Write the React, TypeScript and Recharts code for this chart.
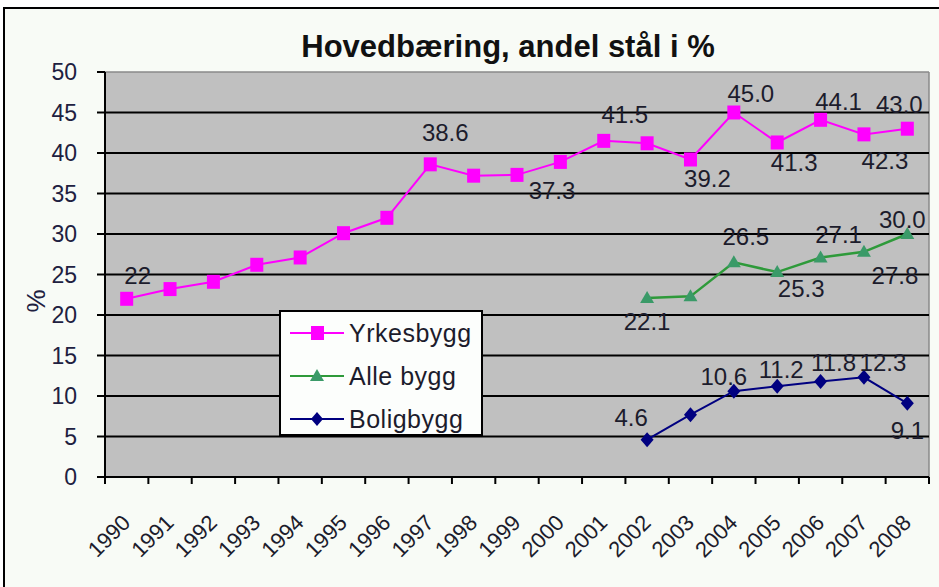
import React from 'react';
import { LineChart, Line, XAxis, YAxis, CartesianGrid, ReferenceLine, LabelList, Legend } from 'recharts';

const years = ['1990', '1991', '1992', '1993', '1994', '1995', '1996', '1997', '1998', '1999', '2000', '2001', '2002', '2003', '2004', '2005', '2006', '2007', '2008'];
const yrkesbygg = [22, 23.2, 24.1, 26.2, 27.1, 30.1, 32.0, 38.6, 37.2, 37.3, 38.9, 41.5, 41.2, 39.2, 45.0, 41.3, 44.1, 42.3, 43.0];
const alleBygg = [null, null, null, null, null, null, null, null, null, null, null, null, 22.1, 22.3, 26.5, 25.3, 27.1, 27.8, 30.0];
const boligbygg = [null, null, null, null, null, null, null, null, null, null, null, null, 4.6, 7.7, 10.6, 11.2, 11.8, 12.3, 9.1];
const yTicks = [0, 5, 10, 15, 20, 25, 30, 35, 40, 45, 50];
const gridValues = [5, 10, 15, 20, 25, 30, 35, 40, 45];

// data label texts (null = no label)
const yrkesLabels = ['22', null, null, null, null, null, null, '38.6', null, '37.3', null, '41.5', null, '39.2', '45.0', '41.3', '44.1', '42.3', '43.0'];
const alleLabels = [null, null, null, null, null, null, null, null, null, null, null, null, '22.1', null, '26.5', '25.3', '27.1', '27.8', '30.0'];
const boligLabels = [null, null, null, null, null, null, null, null, null, null, null, null, '4.6', null, '10.6', '11.2', '11.8', '12.3', '9.1'];

// label centre offsets from the point [dx, dy]
const yrkesOffsets: Record<number, [number, number]> = {
  0: [11, -23], 7: [15, -31], 9: [35, 16], 11: [21, -26], 13: [17, 20], 14: [17, -19],
  15: [17, 21], 16: [18, -18], 17: [21, 27], 18: [-8, -24],
};
const alleOffsets: Record<number, [number, number]> = {
  12: [0, 24], 14: [12, -25], 15: [24, 17], 16: [18, -22], 17: [31, 24], 18: [-5, -14],
};
const boligOffsets: Record<number, [number, number]> = {
  12: [-16, -22], 14: [-10, -14], 15: [4, -16], 16: [13, -18], 17: [19, -14], 18: [0, 28],
};

const data = years.map((year, i) => ({
  year,
  Yrkesbygg: yrkesbygg[i],
  'Alle bygg': alleBygg[i],
  Boligbygg: boligbygg[i],
}));

const FONT = '"Liberation Sans", Arial, sans-serif';
const TEXT = '#1c1c2c';
const PLOT_W = 824;
const HALF_BAND = PLOT_W / years.length / 2;

const PINK = '#FF00FF';
const GREEN_LINE = '#2E9A3A';
const GREEN_MARK = '#3A9A68';
const NAVY = '#000080';

const XTick = (props: any) => {
  const { x, y, payload } = props;
  const idx = props.index ?? payload.index;
  const ax = x + 5;
  const ay = y + 47;
  return (
    <g>
      <line x1={x - HALF_BAND} x2={x - HALF_BAND} y1={y} y2={y + 7} stroke="#000" strokeWidth={2} />
      {idx === years.length - 1 && (
        <line x1={x + HALF_BAND} x2={x + HALF_BAND} y1={y} y2={y + 7} stroke="#000" strokeWidth={2} />
      )}
      <text x={ax} y={ay} transform={`rotate(-45 ${ax} ${ay})`} textAnchor="end" fontSize={22} fontFamily={FONT} fill={TEXT}>
        {payload.value}
      </text>
    </g>
  );
};

const Square = (props: any) => {
  const { cx, cy, index } = props;
  if (cx == null || cy == null || props.value == null) return <g key={`s${index}`} />;
  return <rect key={`s${index}`} x={cx - 6.5} y={cy - 7} width={13} height={14} fill={PINK} />;
};

const Triangle = (props: any) => {
  const { cx, cy, index } = props;
  if (cx == null || cy == null || props.value == null) return <g key={`t${index}`} />;
  return <polygon key={`t${index}`} points={`${cx},${cy - 7} ${cx + 7},${cy + 5} ${cx - 7},${cy + 5}`} fill={GREEN_MARK} />;
};

const Diamond = (props: any) => {
  const { cx, cy, index } = props;
  if (cx == null || cy == null || props.value == null) return <g key={`d${index}`} />;
  return <polygon key={`d${index}`} points={`${cx},${cy - 7.5} ${cx + 6.5},${cy} ${cx},${cy + 7.5} ${cx - 6.5},${cy}`} fill={NAVY} />;
};

const makeLabel = (texts: (string | null)[], offsets: Record<number, [number, number]>) => (props: any) => {
  const { x, y, index } = props;
  const t = texts[index];
  if (!t || x == null || y == null) return null;
  const [dx, dy] = offsets[index] || [0, -20];
  return (
    <text x={x + dx} y={y + dy + 8} textAnchor="middle" fontSize={24} fontFamily={FONT} fill={TEXT}>
      {t}
    </text>
  );
};

const LegendBox = () => {
  const rows = [
    { name: 'Yrkesbygg', color: PINK, mark: 'square' },
    { name: 'Alle bygg', color: GREEN_LINE, mark: 'triangle' },
    { name: 'Boligbygg', color: NAVY, mark: 'diamond' },
  ];
  return (
    <div style={{ width: 204, height: 126, boxSizing: 'border-box', border: '2px solid #000', background: '#FCFEFC', position: 'relative' }}>
      {rows.map((r, i) => {
        const cy = 21 + i * 43;
        return (
          <div key={r.name} style={{ position: 'absolute', left: 0, top: cy - 15, height: 30, width: 200 }}>
            <svg width={60} height={30} style={{ position: 'absolute', left: 9, top: 0 }}>
              <line x1={0} x2={54} y1={15} y2={15} stroke={r.color} strokeWidth={2} />
              {r.mark === 'square' && <rect x={21} y={8} width={13} height={14} fill={PINK} />}
              {r.mark === 'triangle' && <polygon points="27,8 34,20 20,20" fill={GREEN_MARK} />}
              {r.mark === 'diamond' && <polygon points="27,8 33,15 27,22 21,15" fill={NAVY} />}
            </svg>
            <span style={{ position: 'absolute', left: 68, top: 0, lineHeight: '30px', fontSize: 25, letterSpacing: 0.5, fontFamily: FONT, color: TEXT }}>
              {r.name}
            </span>
          </div>
        );
      })}
    </div>
  );
};

export default function App() {
  return (
    <div style={{ position: 'absolute', left: 0, top: 0, width: 939, height: 587, overflow: 'hidden', background: '#fff' }}>
      <div style={{ position: 'absolute', left: 3, top: 7, width: 960, height: 620, border: '2px solid #000', background: '#F8FBF6' }} />
      <div style={{ position: 'absolute', left: 508, top: 29, transform: 'translateX(-50%)', whiteSpace: 'nowrap', fontFamily: FONT, fontWeight: 'bold', fontSize: 31, color: '#111' }}>
        Hovedbæring, andel stål i %
      </div>
      <div style={{ position: 'absolute', left: 0, top: 0 }}>
        <LineChart width={939} height={587} data={data} margin={{ top: 72, right: 10, bottom: 0, left: 0 }}>
          <CartesianGrid horizontal={false} vertical verticalPoints={[929]} stroke="#8a8a8a" strokeWidth={1.5} fill="#C0C0C0" />
          <ReferenceLine y={50} stroke="#8a8a8a" strokeWidth={1.5} />
          {gridValues.map((v) => (
            <ReferenceLine key={v} y={v} stroke="#000" strokeWidth={2} />
          ))}
          <XAxis
            dataKey="year"
            interval={0}
            height={110}
            padding={{ left: HALF_BAND, right: HALF_BAND }}
            tickLine={false}
            tickSize={0}
            tickMargin={0}
            axisLine={{ stroke: '#000', strokeWidth: 2 }}
            tick={<XTick />}
          />
          <YAxis
            domain={[0, 50]}
            ticks={yTicks}
            interval={0}
            width={105}
            tickSize={8}
            tickMargin={20}
            tickLine={{ stroke: '#000', strokeWidth: 2 }}
            axisLine={{ stroke: '#000', strokeWidth: 2 }}
            tick={{ fontSize: 23, fontFamily: FONT, fill: '#202040' }}
            label={{
              content: () => (
                <text x={45} y={301} transform="rotate(-90 45 301)" textAnchor="middle" fontSize={26} fontFamily={FONT} fill="#202040">
                  %
                </text>
              ),
            }}
          />
          <Legend
            layout="vertical"
            align="center"
            verticalAlign="middle"
            content={<LegendBox />}
            wrapperStyle={{ left: 279, top: 310, width: 204, height: 126 }}
          />
          <Line dataKey="Yrkesbygg" stroke={PINK} strokeWidth={2} dot={<Square />} activeDot={false} isAnimationActive={false}>
            <LabelList dataKey="Yrkesbygg" content={makeLabel(yrkesLabels, yrkesOffsets)} />
          </Line>
          <Line dataKey="Alle bygg" stroke={GREEN_LINE} strokeWidth={2.5} dot={<Triangle />} activeDot={false} isAnimationActive={false}>
            <LabelList dataKey="Alle bygg" content={makeLabel(alleLabels, alleOffsets)} />
          </Line>
          <Line dataKey="Boligbygg" stroke={NAVY} strokeWidth={2} dot={<Diamond />} activeDot={false} isAnimationActive={false}>
            <LabelList dataKey="Boligbygg" content={makeLabel(boligLabels, boligOffsets)} />
          </Line>
        </LineChart>
      </div>
    </div>
  );
}
